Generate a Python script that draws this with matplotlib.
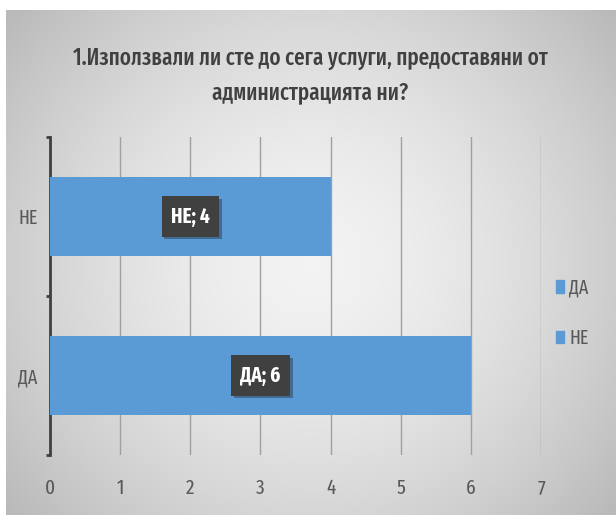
import numpy as np
import matplotlib
matplotlib.use("Agg")
import matplotlib.pyplot as plt
import matplotlib.patheffects as pe

categories = ["ДА", "НЕ"]
values = [6, 4]
x_ticks = [0, 1, 2, 3, 4, 5, 6, 7]
title = "1.Използвали ли сте до сега услуги, предоставяни от\nадминистрацията ни?"

plt.rcParams['font.family'] = ['Fira Sans Extra Condensed', 'Roboto Condensed', 'DejaVu Sans']

BAR = '#5b9bd5'
TXT = '#595959'

fig = plt.figure(figsize=(6.16, 5.15), dpi=100)
fig.patch.set_facecolor('white')

# background gradient panel
bg = fig.add_axes([6 / 616, 0, 1 - 6 / 616, 1 - 10 / 515])
yy, xx = np.mgrid[-1:1:200j, -1:1:240j]
r = np.sqrt((xx * 0.95) ** 2 + (yy * 0.8) ** 2)
shade = 0.95 - 0.16 * np.clip(r, 0, 1.3) ** 1.6
bg.imshow(shade, cmap='gray', vmin=0, vmax=1, aspect='auto', interpolation='bicubic')
bg.set_axis_off()

ax = fig.add_axes([50 / 616, 1 - 455 / 515, 491 / 616, 318 / 515])
ax.patch.set_alpha(0)
ypos = np.arange(len(categories))
ax.barh(ypos, values, height=0.5, color=BAR, zorder=3)
ax.set_xlim(0, 7)
ax.set_ylim(-0.5, len(categories) - 0.5)

ax.set_xticks(x_ticks)
ax.set_xticklabels([str(t) for t in x_ticks])
ax.grid(axis='x', color='#a0a0a0', linewidth=1, zorder=1)
ax.tick_params(axis='x', length=0, pad=17, labelsize=15, labelcolor=TXT)

ax.set_yticks([-0.5, 0.5, 1.5])
ax.set_yticklabels([])
ax.set_yticks(ypos, minor=True)
ax.set_yticklabels(categories, minor=True)
ax.tick_params(axis='y', which='major', length=3, width=2, color='#404040', direction='out')
ax.tick_params(axis='y', which='minor', length=0, pad=9, labelsize=14, labelcolor=TXT)

for s in ['top', 'right', 'bottom']:
    ax.spines[s].set_visible(False)
ax.spines['left'].set_color('#404040')
ax.spines['left'].set_linewidth(2)

for y, v, c in zip(ypos, values, categories):
    ax.text(v / 2, y, f"{c}; {v}", ha='center', va='center', color='white',
            fontsize=15, fontweight='bold', zorder=5,
            bbox=dict(boxstyle='square,pad=0.45', fc='#404040', ec='none',
                      path_effects=[pe.withSimplePatchShadow(offset=(2, -2), alpha=0.35)]))

handles = [plt.Rectangle((0, 0), 1, 1, color=BAR) for _ in categories]
leg = fig.legend(handles, categories, loc='center left', bbox_to_anchor=(538 / 616, 1 - 313 / 515),
                 frameon=False, labelcolor=TXT, handlelength=0.45, handleheight=0.6,
                 handletextpad=0.25, labelspacing=1.6, prop={'size': 14})

fig.text(310 / 616, 1 - 75 / 515, title, ha='center', va='center', fontsize=16.5,
         color='#404040', linespacing=1.6, fontweight='medium')

fig.savefig('out.png', dpi=100)
